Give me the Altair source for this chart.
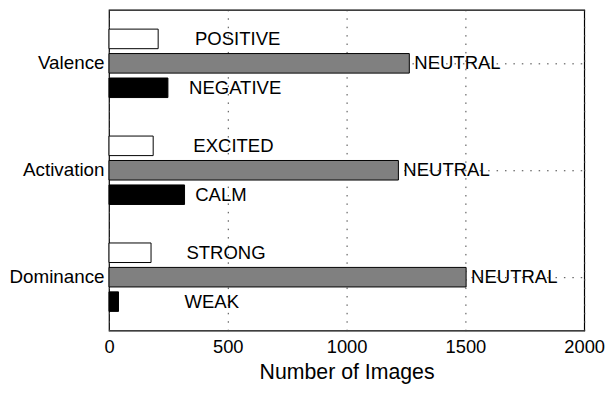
import altair as alt
import pandas as pd

categories = ["Valence", "Activation", "Dominance"]
high_labels = ["POSITIVE", "EXCITED", "STRONG"]
low_labels = ["NEGATIVE", "CALM", "WEAK"]
high_values = [207, 186, 177]
neutral_values = [1264, 1218, 1503]
low_values = [248, 318, 40]
high_label_x = [362, 355, 326]
low_label_x = [337, 363, 318]
x_ticks = [0, 500, 1000, 1500, 2000]

rows = []
for i, c in enumerate(categories):
    rows.append(dict(cat=c, series="a_high", value=high_values[i], label=high_labels[i], lx=high_label_x[i]))
    rows.append(dict(cat=c, series="b_neutral", value=neutral_values[i], label="NEUTRAL", lx=neutral_values[i]))
    rows.append(dict(cat=c, series="c_low", value=low_values[i], label=low_labels[i], lx=low_label_x[i]))
df = pd.DataFrame(rows)

FONT = "Liberation Sans"
GRID = dict(gridDash=[1.5, 7], gridColor="#444", gridOpacity=1, gridWidth=1)

yscale = alt.Scale(domain=categories, paddingInner=0.36, paddingOuter=0.18)
yoff_scale = alt.Scale(domain=["a_high", "b_neutral", "c_low"], paddingInner=0.2, paddingOuter=0)
xscale = alt.Scale(domain=[0, 2000], nice=False)

base = alt.Chart(df)

bars = base.mark_bar(stroke="black", strokeWidth=1).encode(
    x=alt.X("value:Q", scale=xscale,
            axis=alt.Axis(values=x_ticks, format="d", title="Number of Images", grid=True,
                          ticks=False, labelFontSize=18.5, labelPadding=7, labelFlush=False,
                          titleFontSize=21.5, titleFontWeight="normal",
                          titleBaseline="alphabetic", titleY=48,
                          labelColor="black", titleColor="black", domain=False,
                          labelFont=FONT, titleFont=FONT, **GRID)),
    y=alt.Y("cat:N", scale=yscale, sort=categories,
            axis=alt.Axis(title=None, grid=True, bandPosition=0.5, ticks=False, domain=False,
                          labelFontSize=19, labelPadding=5, labelColor="black",
                          labelFont=FONT, **GRID)),
    yOffset=alt.YOffset("series:N", scale=yoff_scale),
    fill=alt.Fill("series:N", scale=alt.Scale(domain=["a_high", "b_neutral", "c_low"],
                                               range=["white", "#808080", "black"]), legend=None),
)

neutral_text = base.transform_filter(alt.datum.series == "b_neutral").mark_text(
    align="left", baseline="middle", dx=5, fontSize=18.7, font=FONT, color="black"
).encode(
    x=alt.X("lx:Q", scale=xscale),
    y=alt.Y("cat:N", scale=yscale, sort=categories),
    yOffset=alt.YOffset("series:N", scale=yoff_scale),
    text="label:N",
)

other_text = base.transform_filter(alt.datum.series != "b_neutral").mark_text(
    align="left", baseline="middle", fontSize=18.7, font=FONT, color="black"
).encode(
    x=alt.X("lx:Q", scale=xscale),
    y=alt.Y("cat:N", scale=yscale, sort=categories),
    yOffset=alt.YOffset("series:N", scale=yoff_scale),
    text="label:N",
)

chart = (bars + neutral_text + other_text).properties(
    width=480, height=324,
    autosize=alt.AutoSizeParams(type="none"),
    padding={"left": 102, "top": 0, "right": 21, "bottom": 53},
    background="white",
).configure_view(stroke="black", strokeWidth=1.2)

chart.save("out.html", embed_options={"renderer": "svg", "actions": False})
